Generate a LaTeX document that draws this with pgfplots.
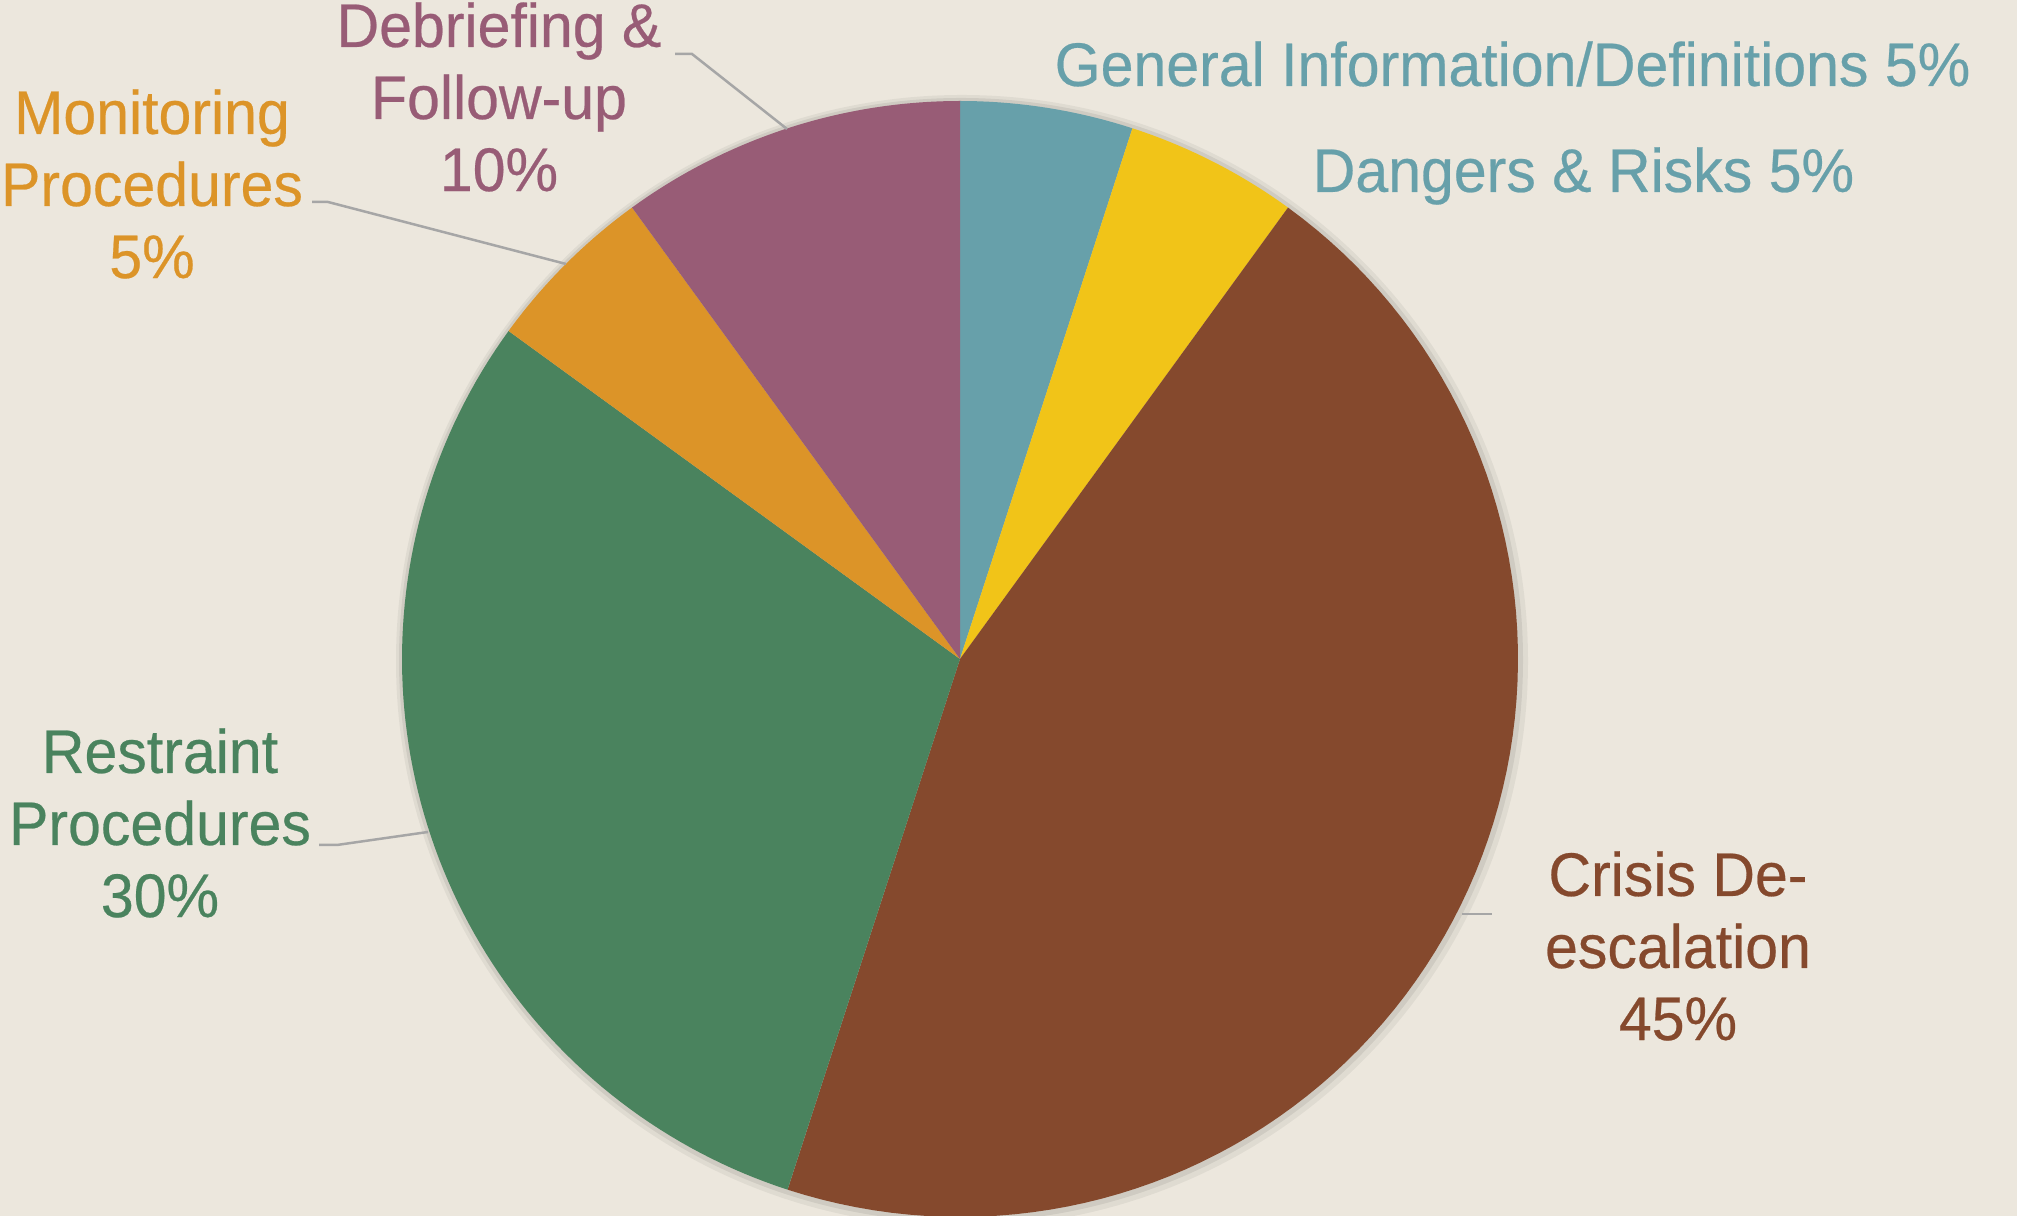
\documentclass[border=0pt]{standalone}
\usepackage{pgfplots}
\pgfplotsset{compat=1.18}
\usepackage{pgfplotstable}
\usepackage{fontspec}
\setmainfont{Liberation Sans}[FakeStretch=0.96, FakeBold=0.4]
\definecolor{bg}{HTML}{ECE7DD}
\definecolor{cTeal}{HTML}{67A0AA}
\definecolor{cYellow}{HTML}{F1C418}
\definecolor{cBrown}{HTML}{85492D}
\definecolor{cGreen}{HTML}{4A835E}
\definecolor{cOrange}{HTML}{DC9428}
\definecolor{cMauve}{HTML}{985C76}
\definecolor{cLine}{HTML}{A6A6A6}

\pgfplotstableread{
value color
5 cTeal
5 cYellow
45 cBrown
30 cGreen
5 cOrange
10 cMauve
}\piedata

\begin{document}
\begin{tikzpicture}
\begin{axis}[
  width=20.17cm, height=12.16cm, scale only axis,
  xmin=0, xmax=2017, ymin=0, ymax=1216,
  axis lines=none, ticks=none,
  axis background/.style={fill=bg},
  clip=true,
]
% soft shadow
\fill[black, opacity=0.05] (axis cs:962,555) circle[radius=566];
\fill[black, opacity=0.07] (axis cs:961,556) circle[radius=562];
% slices
\def\cum{0}
\pgfplotsforeachungrouped \i in {0,...,5}{%
  \pgfplotstablegetelem{\i}{value}\of\piedata \let\v\pgfplotsretval
  \pgfplotstablegetelem{\i}{color}\of\piedata \let\c\pgfplotsretval
  \pgfmathsetmacro\a{90-3.6*\cum}%
  \pgfmathsetmacro\b{90-3.6*(\cum+\v)}%
  \edef\doplot{\noexpand\addplot[fill=\c, draw=none, domain=\b:\a, samples=90]
    ({960+558*cos(x)},{557+558*sin(x)}) -- (axis cs:960,557) -- cycle;}%
  \doplot
  \pgfmathsetmacro\cum{\cum+\v}%
}
% leader lines
\draw[cLine, line width=0.25mm] (axis cs:675,1162) -- (axis cs:692,1162) -- (axis cs:787,1087);
\draw[cLine, line width=0.25mm] (axis cs:312,1014) -- (axis cs:328,1014) -- (axis cs:566,952);
\draw[cLine, line width=0.25mm] (axis cs:319,371) -- (axis cs:337,371) -- (axis cs:428,384);
\draw[cLine, line width=0.25mm] (axis cs:1462,302) -- (axis cs:1492,302);
% labels
\tikzset{lbl/.style={inner sep=0pt, align=center, font=\fontsize{17.5}{20.5}\selectfont}}
\node[lbl, text=cMauve] at (axis cs:499,1119) {Debriefing \&\\Follow-up\\10\%};
\node[lbl, text=cOrange] at (axis cs:152,1032) {Monitoring\\Procedures\\5\%};
\node[lbl, text=cGreen] at (axis cs:160,393) {Restraint\\Procedures\\30\%};
\node[lbl, text=cBrown] at (axis cs:1678,270) {Crisis De-\\escalation\\45\%};
\node[lbl, text=cTeal, anchor=west] at (axis cs:1054,1152) {General Information/Definitions 5\%};
\node[lbl, text=cTeal, anchor=west] at (axis cs:1312,1040) {Dangers \& Risks 5\%};
\end{axis}
\end{tikzpicture}
\end{document}
